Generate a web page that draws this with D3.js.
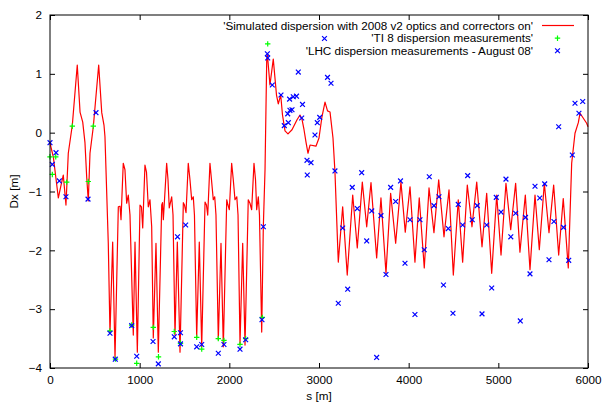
<!DOCTYPE html>
<html><head><meta charset="utf-8">
<script src="https://cdn.jsdelivr.net/npm/d3@7"></script>
<style>
html,body{margin:0;padding:0;background:#fff;}
text{font-family:"Liberation Sans",Arial,Helvetica,sans-serif;fill:#000;}
</style>
</head><body>
<svg id="chart" width="604" height="403"></svg>
<script>
// ---- data ----
const simS = [0,37,93,119,148,178,204,249,304,335,365,390,409,427,446,483,543,577,602,613,650,669,
699,725,762,781,792,817,836,855,873,892,929,948,974,1004,1020,1034,1059,1076,1096,1115,1134,1152,1182,1208,
1246,1255,1264,1301,1316,1330,1357,1372,1394,1420,1450,1487,1500,1517,1542,1561,1580,1598,1611,1636,1665,1692,
1729,1745,1759,1784,1801,1821,1837,1851,1877,1907,1933,1971,1985,2000,2026,2044,2063,2083,2097,2119,2149,2175,
2211,2230,2249,2275,2292,2305,2323,2336,2361,2379,2398,2417,2425,2453,2490,2526,2546,2573,2593,2621,2654,2699,
2755,2788,2810,2833,2855,2877,2900,2966,3000,3033,3067,3095,3123,3156,3178,3215,3264,3315,3376,3427,3483,3532,
3580,3643,3691,3747,3799,3855,3914,3962,4015,4070,4118,4174,4227,4282,4335,4394,4450,4498,4553,4602,4654,4706,
4759,4818,4870,4926,4982,5030,5085,5138,5193,5241,5301,5353,5409,5457,5513,5565,5617,5673,5724,5780,5818,5855,
5892,5911,5985,6000];
const simDx = [-0.18,-0.41,-1.11,-0.92,-0.72,-1.23,-0.35,0.13,1.15,0.35,0.18,-0.17,-0.75,-1.16,-0.35,0.10,1.15,0.34,0.13,-0.07,-1.88,-3.41,
-1.86,-3.83,-1.26,-1.25,-1.48,-0.52,-0.63,-1.20,-1.06,-1.40,-3.44,-1.86,-3.73,-1.23,-1.26,-1.62,-0.55,-0.67,-1.26,-1.14,-1.60,-3.49,-1.88,-3.73,
-1.23,-1.19,-1.48,-0.52,-0.80,-1.28,-1.09,-1.40,-3.44,-1.86,-3.73,-1.19,-1.23,-1.36,-0.52,-0.80,-1.14,-1.09,-1.40,-3.47,-1.86,-3.64,
-1.18,-1.23,-1.40,-0.52,-0.80,-1.14,-1.09,-1.40,-3.52,-1.88,-3.64,-1.14,-1.23,-1.31,-0.52,-0.80,-1.14,-1.09,-1.40,-3.59,-1.88,-3.61,
-1.14,-1.20,-1.31,-0.52,-0.80,-1.31,-1.09,-1.40,-3.39,-1.60,-0.63,1.24,1.32,0.81,1.25,0.64,0.49,0.64,0.30,0.03,-0.02,0.05,
0.22,0.30,0.23,0.05,-0.16,-0.35,-0.21,-0.23,-0.09,0.27,0.52,0.37,0.35,-0.09,-0.67,-2.20,-1.26,-2.42,-1.06,-1.96,-0.84,-1.60,
-0.85,-2.13,-1.11,-2.39,-1.03,-1.88,-0.84,-1.69,-0.92,-2.20,-1.11,-2.30,-0.94,-1.70,-0.80,-1.77,-0.97,-2.42,-1.14,-2.20,-0.89,-1.60,
-0.84,-1.94,-1.03,-2.39,-1.06,-2.08,-0.86,-1.65,-0.86,-2.03,-1.06,-2.33,-1.06,-1.99,-0.86,-1.70,-0.89,-2.08,-1.12,-2.30,-0.52,-0.01,
0.17,0.33,0.16,0.10];

const ti8S  = [0,26,64,186,249,427,483,669,730,911,967,1152,1210,1386,1455,1636,1692,1877,1940,2119,2182,2368,2428];
const ti8Dx = [-0.41,-0.71,-0.41,-0.84,0.11,-0.83,0.11,-3.37,-3.85,-3.27,-3.92,-3.31,-3.81,-3.38,-3.58,-3.48,-3.68,-3.50,-3.53,-3.60,-3.50,-3.14,1.51];

const lhcS  = [0,26,67,104,178,424,513,669,728,911,967,1149,1208,1386,1422,1455,1455,1513,1636,1692,1877,1940,2119,2182,2364,2379,
2424,2428,2479,2576,2613,2651,2658,2672,2676,2699,2713,2749,2769,2816,2807,2866,2911,2869,2955,2981,3008,3061,3095,3134,3178,
3215,3264,3320,3371,3427,3476,3532,3588,3643,3691,3747,3799,3855,3909,3959,4015,4070,4126,4174,4230,4282,4338,4388,4442,4494,
4553,4602,4658,4709,4765,4818,4870,4926,4977,5030,5085,5139,5193,5245,5303,5353,5409,5462,5517,5565,5620,5673,5727,5785,5825,
5855,5899,5941];
const lhcDx = [-0.17,-0.54,-0.34,-0.82,-1.09,-1.13,0.34,-3.41,-3.85,-3.28,-3.80,-3.55,-3.93,-3.47,-1.77,-3.40,-3.59,-1.57,-3.64,-3.60,-3.75,-3.60,-3.68,-3.52,-3.18,-1.60,
1.34,1.27,0.81,0.64,0.12,0.32,0.17,0.57,0.38,0.39,0.61,0.62,1.03,0.48,0.25,-0.47,-0.51,-0.72,-0.04,0.17,0.26,1.60,0.94,0.84,-0.65,
-2.90,-1.62,-2.66,-0.93,-1.29,-0.68,-1.84,-1.33,-3.82,-1.41,-2.41,-0.93,-1.17,-0.82,-2.22,-1.48,-3.09,-1.48,-1.99,-0.75,-1.24,-1.09,-2.59,-1.63,-3.07,
-1.22,-1.57,-0.73,-1.48,-1.24,-3.08,-1.57,-2.64,-1.10,-1.35,-0.79,-1.77,-1.37,-3.20,-1.44,-2.40,-0.91,-1.11,-0.87,-2.16,-1.51,0.10,-1.61,-2.17,-0.38,
0.50,0.33,0.53];

const xTicks = [0,1000,2000,3000,4000,5000,6000];
const yTicks = [-4,-3,-2,-1,0,1,2];
const legendLabels = ["'Simulated dispersion with 2008 v2 optics and correctors on'",
                      "'TI 8 dispersion measurements'",
                      "'LHC dispersion measurements - August 08'"];
const xTitle = "s [m]";
const yTitle = "Dx [m]";

// ---- drawing ----
const svg = d3.select("#chart");
const L = 50, R = 588, T = 15, B = 368;
const FS = "11.7px";
const x = d3.scaleLinear().domain([0,6000]).range([L,R]);
const y = d3.scaleLinear().domain([-4,2]).range([B,T]);

svg.append("rect").attr("width",604).attr("height",403).attr("fill","#fff");

const sim = simS.map((s,i)=>[s,simDx[i]]);
const ti8 = ti8S.map((s,i)=>[s,ti8Dx[i]]);
const lhc = lhcS.map((s,i)=>[s,lhcDx[i]]);

// axes
function styleAxis(g){
  g.select(".domain").remove();
  g.selectAll(".tick line").attr("stroke","#000").attr("stroke-width",1);
  g.selectAll("text").style("font-size",FS).attr("fill","#000");
}
svg.append("g").attr("transform",`translate(0,${B})`)
  .call(d3.axisBottom(x).tickValues(xTicks).tickSizeInner(-5).tickSizeOuter(0).tickPadding(8).tickFormat(d3.format("d")))
  .call(styleAxis);
svg.append("g").attr("transform",`translate(0,${T})`)
  .call(d3.axisTop(x).tickValues(xTicks).tickSizeInner(-5).tickSizeOuter(0).tickFormat(""))
  .call(styleAxis);
svg.append("g").attr("transform",`translate(${L},0)`)
  .call(d3.axisLeft(y).tickValues(yTicks).tickSizeInner(-5).tickSizeOuter(0).tickPadding(8).tickFormat(d3.format("d")))
  .call(styleAxis);
svg.append("g").attr("transform",`translate(${R},0)`)
  .call(d3.axisRight(y).tickValues(yTicks).tickSizeInner(-5).tickSizeOuter(0).tickFormat(""))
  .call(styleAxis);

// simulated line
svg.append("path").datum(sim)
  .attr("fill","none").attr("stroke","#ff0000").attr("stroke-width",1.2).attr("stroke-linejoin","round")
  .attr("d", d3.line().x(d=>x(d[0])).y(d=>y(d[1])));

const plusPath = "M-2.7,0H2.7M0,-2.7V2.7";
const crossPath = "M-2.4,-2.4L2.4,2.4M-2.4,2.4L2.4,-2.4";

svg.append("g").selectAll("path").data(ti8).join("path")
  .attr("transform",d=>`translate(${x(d[0])},${y(d[1])})`)
  .attr("d",plusPath).attr("stroke","#00ff00").attr("stroke-width",1.2).attr("fill","none");

svg.append("g").selectAll("path").data(lhc).join("path")
  .attr("transform",d=>`translate(${x(d[0])},${y(d[1])})`)
  .attr("d",crossPath).attr("stroke","#0000ff").attr("stroke-width",1.2).attr("fill","none");

// border
svg.append("rect").attr("x",L).attr("y",T).attr("width",R-L).attr("height",B-T)
  .attr("fill","none").attr("stroke","#000").attr("stroke-width",1);

// axis titles
svg.append("text").attr("x",(L+R)/2).attr("y",400).attr("text-anchor","middle")
  .style("font-size",FS).text(xTitle);
svg.append("text").attr("transform",`translate(18,${(T+B)/2}) rotate(-90)`).attr("text-anchor","middle")
  .style("font-size",FS).text(yTitle);

// legend
const legY = [25.5, 38.2, 50.8];
const lg = svg.append("g");
legendLabels.forEach((t,i)=>{
  lg.append("text").attr("x",533).attr("y",legY[i]).attr("dy","0.35em")
    .attr("text-anchor","end").style("font-size",FS).text(t);
});
lg.append("line").attr("x1",542).attr("x2",574).attr("y1",legY[0]).attr("y2",legY[0])
  .attr("stroke","#ff0000").attr("stroke-width",1.2);
lg.append("path").attr("transform",`translate(557.5,${legY[1]})`).attr("d",plusPath)
  .attr("stroke","#00ff00").attr("stroke-width",1.2).attr("fill","none");
lg.append("path").attr("transform",`translate(557.5,${legY[2]})`).attr("d",crossPath)
  .attr("stroke","#0000ff").attr("stroke-width",1.2).attr("fill","none");
</script>
</body></html>
